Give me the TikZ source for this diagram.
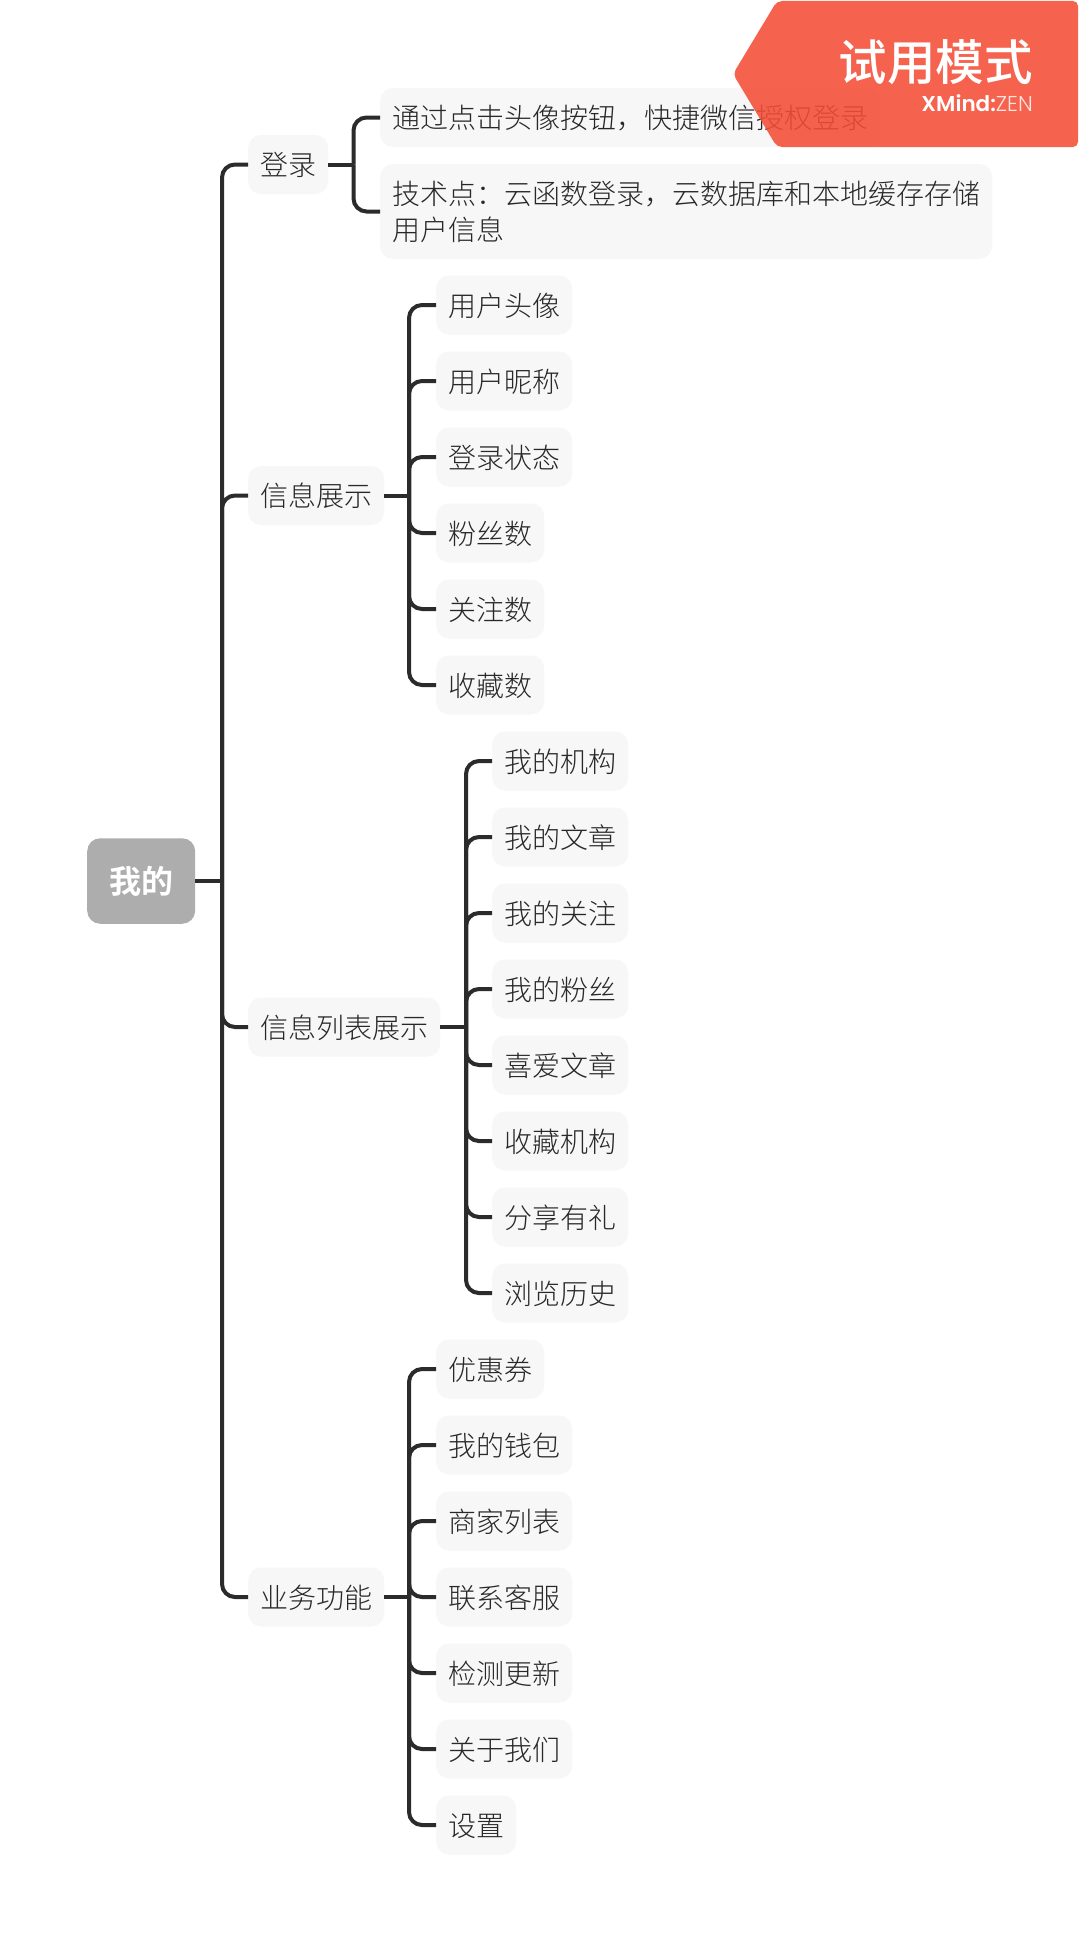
\documentclass[tikz,border=0pt]{standalone}
\usepackage{fontspec}
\setmainfont{Noto Sans CJK SC Light}[BoldFont={Noto Sans CJK SC Bold}]
\newfontfamily\popfont{Poppins}[BoldFont={Poppins SemiBold}]
\newfontfamily\poplight{Poppins Light}
\newfontfamily\wmfont{Noto Sans CJK SC Medium}
\definecolor{txt}{HTML}{282828}
\definecolor{rootfill}{HTML}{ADADAD}
\definecolor{boxfill}{HTML}{F7F7F7}
\definecolor{linkcol}{HTML}{2B2B2B}
\definecolor{wm}{HTML}{F44D36}
\definecolor{zen}{HTML}{FFE4DF}
\tikzset{
  rootbox/.style={fill=rootfill,rounded corners=13pt,text=white,minimum width=108pt,minimum height=85.5pt,inner sep=0pt,font=\fontsize{32}{36}\selectfont\bfseries,anchor=west},
  basebox/.style={fill=boxfill,rounded corners=13pt,text=txt,inner xsep=12pt,inner ysep=0pt,font=\fontsize{28}{36}\selectfont,anchor=west},
  topicbox/.style={basebox,minimum height=59pt,text height=24pt,text depth=2pt},
  wraptext/.style={basebox,align=left,minimum height=95pt},
  link/.style={draw=linkcol,line width=4pt},
  curvedlink/.style={link,rounded corners=13pt},
}
\begin{document}
\begin{tikzpicture}[x=1pt,y=-1pt]
\useasboundingbox[fill=white] (0,0) rectangle (1079,1943);
% nodes
\node[rootbox] (root) at (87,881) {我的};
\node[topicbox] (a) at (248,164.5) {登录};
\node[topicbox] (b) at (248,495.5) {信息展示};
\node[topicbox] (c) at (248,1027) {信息列表展示};
\node[topicbox] (d) at (248,1597) {业务功能};
\node[topicbox] (a1) at (380,117.5) {通过点击头像按钮，快捷微信授权登录};
\node[wraptext] (a2) at (380,211.5) {技术点：云函数登录，云数据库和本地缓存存储\\用户信息};
\node[topicbox] (b1) at (436,305) {用户头像};
\node[topicbox] (b2) at (436,381) {用户昵称};
\node[topicbox] (b3) at (436,457) {登录状态};
\node[topicbox] (b4) at (436,533) {粉丝数};
\node[topicbox] (b5) at (436,609) {关注数};
\node[topicbox] (b6) at (436,685) {收藏数};
\node[topicbox] (c1) at (492,761) {我的机构};
\node[topicbox] (c2) at (492,837) {我的文章};
\node[topicbox] (c3) at (492,913) {我的关注};
\node[topicbox] (c4) at (492,989) {我的粉丝};
\node[topicbox] (c5) at (492,1065) {喜爱文章};
\node[topicbox] (c6) at (492,1141) {收藏机构};
\node[topicbox] (c7) at (492,1217) {分享有礼};
\node[topicbox] (c8) at (492,1293) {浏览历史};
\node[topicbox] (d1) at (436,1369) {优惠券};
\node[topicbox] (d2) at (436,1445) {我的钱包};
\node[topicbox] (d3) at (436,1521) {商家列表};
\node[topicbox] (d4) at (436,1597) {联系客服};
\node[topicbox] (d5) at (436,1673) {检测更新};
\node[topicbox] (d6) at (436,1749) {关于我们};
\node[topicbox] (d7) at (436,1825) {设置};
% junctions
\coordinate (j0) at (222,881);
\coordinate (ja) at (353.5,164.5);
\coordinate (jb) at (409,495.5);
\coordinate (jc) at (466,1027);
\coordinate (jd) at (409,1597);
% connectors
\draw[link] (root.east) -- (j0);
\foreach \k in {a,b,c,d} \draw[curvedlink] (j0) |- (\k.west);
\draw[link] (a.east) -- (ja);
\foreach \k in {a1,a2} \draw[curvedlink] (ja) |- (\k.west);
\draw[link] (b.east) -- (jb);
\foreach \k in {b1,b2,b3,b4,b5,b6} \draw[curvedlink] (jb) |- (\k.west);
\draw[link] (c.east) -- (jc);
\foreach \k in {c1,c2,c3,c4,c5,c6,c7,c8} \draw[curvedlink] (jc) |- (\k.west);
\draw[link] (d.east) -- (jd);
\foreach \k in {d1,d2,d3,d4,d5,d6,d7} \draw[curvedlink] (jd) |- (\k.west);
% trial-mode badge
\path[fill=wm,fill opacity=.88,rounded corners=5pt] (733,74) -- (777,1) -- (1078,1) -- (1078,147) -- (777,147) -- cycle;
\node[text=white,font=\wmfont\fontsize{48.5}{56}\selectfont,anchor=east,inner sep=0pt] (wmt) at (1033,62) {试用模式};
\node[font=\popfont\fontsize{21.5}{24}\selectfont,anchor=east,inner sep=0pt,text=white] (wmx) at (1033,103) {\textbf{XMind:}\textcolor{zen}{\poplight ZEN}};
\end{tikzpicture}
\end{document}
